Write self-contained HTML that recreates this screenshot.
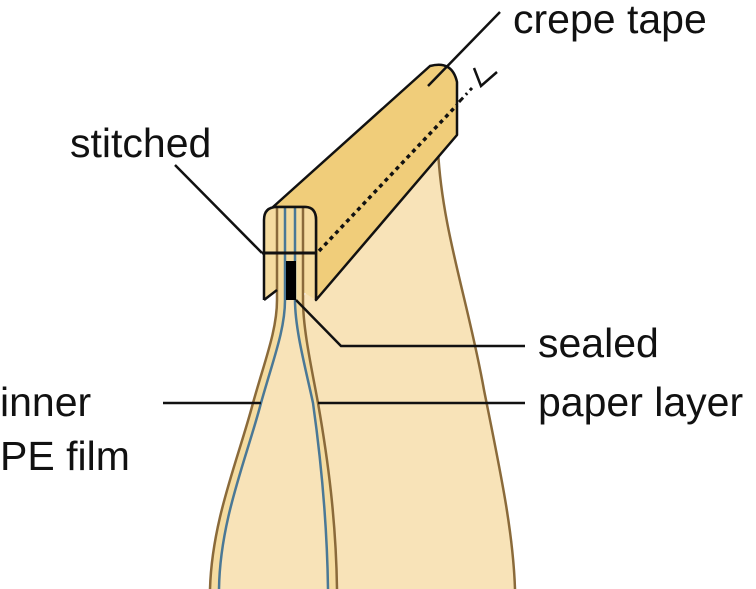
<!DOCTYPE html>
<html><head><style>body{margin:0;background:#fff}svg{display:block}text{font-family:"Liberation Sans",sans-serif;font-size:41px;fill:#111}</style></head>
<body>
<svg width="756" height="589" viewBox="0 0 756 589">
<!-- back sheet -->
<path d="M300 300 L438 150 C442 230 468 300 484 390 C500 470 513 530 515 589 L330 589 Z" fill="#f8e3b8"/>
<path d="M438 150 C442 230 468 300 484 390 C500 470 513 530 515 589" fill="none" stroke="#8a6a3a" stroke-width="2.5"/>
<!-- front sheet -->
<path d="M277 300 C277 330 265 360 253 403 C238 460 212 520 210 589 L337 589 C336 520 328 460 318 403 C312 370 303 330 303 300 Z" fill="#f5dca0"/>
<path d="M285 300 C285 330 273 360 261 403 C246 460 220 520 219 589 L328 589 C327 520 321 460 313 403 C306 370 295 330 295 300 Z" fill="#f8e3b8"/>
<path d="M277 300 C277 330 265 360 253 403 C238 460 212 520 210 589" fill="none" stroke="#8a6a3a" stroke-width="2.5"/>
<path d="M303 300 C303 330 312 370 318 403 C328 460 336 520 337 589" fill="none" stroke="#8a6a3a" stroke-width="2.5"/>
<path d="M285 300 C285 330 273 360 261 403 C246 460 220 520 219 589" fill="none" stroke="#4a7896" stroke-width="2.5"/>
<path d="M295 300 C295 330 306 370 313 403 C321 460 327 520 328 589" fill="none" stroke="#4a7896" stroke-width="2.5"/>
<!-- tape long face -->
<path d="M273 207 L430 66 Q452 60 457 82 L457 135 L316 300 L316 217 Q314 207 305 207 Z" fill="#f0cd7a" stroke="#111" stroke-width="2.5" stroke-linejoin="round"/>
<!-- cap -->
<path d="M264 300 L264 220 Q264 207 277 207 L305 207 Q316 207 316 220 L316 300 L303 292 L303 300 L277 300 L277 290 Z" fill="#f5dca0"/>
<line x1="277" y1="207" x2="277" y2="300" stroke="#8a6a3a" stroke-width="2.5"/>
<line x1="303" y1="207" x2="303" y2="300" stroke="#8a6a3a" stroke-width="2.5"/>
<line x1="285" y1="207" x2="285" y2="300" stroke="#4a7896" stroke-width="2.5"/>
<line x1="295" y1="207" x2="295" y2="300" stroke="#4a7896" stroke-width="2.5"/>
<path d="M264 300 L264 220 Q264 207 277 207 L305 207 Q316 207 316 220" fill="none" stroke="#111" stroke-width="2.5"/>
<path d="M264 300 L277 290 M316 300 L316 220" fill="none" stroke="#111" stroke-width="2.5"/>
<rect x="286" y="261" width="10" height="39" fill="#000"/>
<!-- stitch -->
<line x1="262" y1="253" x2="317" y2="253" stroke="#111" stroke-width="3"/>
<line x1="319" y1="251" x2="457" y2="105" stroke="#111" stroke-width="3.5" stroke-dasharray="4 4"/>
<line x1="459" y1="102" x2="472" y2="88" stroke="#111" stroke-width="3" stroke-dasharray="6 4 2 4"/>
<path d="M474 68 L481 86 L497 72" fill="none" stroke="#111" stroke-width="2.5"/>
<!-- leaders -->
<g stroke="#111" stroke-width="2.5" fill="none">
<line x1="428" y1="86" x2="500" y2="12"/>
<line x1="175" y1="165" x2="262" y2="253"/>
<polyline points="296,300 341,346 525,346"/>
<line x1="318" y1="403" x2="525" y2="403"/>
<line x1="163" y1="403" x2="261" y2="403"/>
</g>
<text x="513" y="33">crepe tape</text>
<text x="70" y="157">stitched</text>
<text x="538" y="357">sealed</text>
<text x="538" y="416">paper layer</text>
<text x="0" y="416">inner</text>
<text x="0" y="470">PE film</text>
</svg>
</body></html>
